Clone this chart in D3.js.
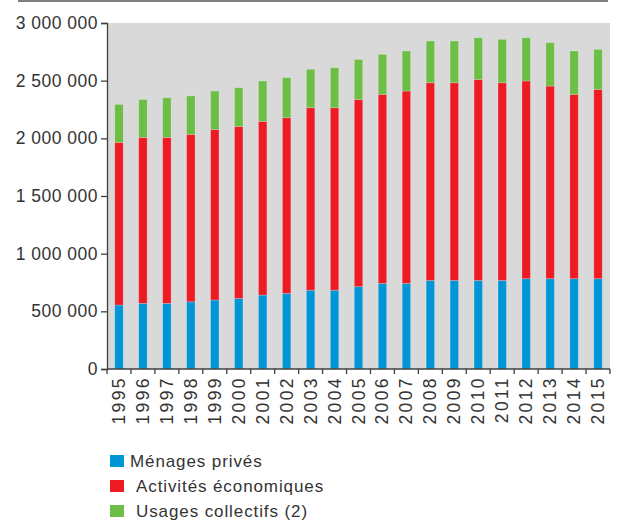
<!DOCTYPE html>
<html>
<head>
<meta charset="utf-8">
<script src="https://cdn.jsdelivr.net/npm/d3@7"></script>
<style>
  body { margin: 0; background: #fff; }
  svg text { font-family: "Liberation Sans", Arial, sans-serif; fill: #333; }
</style>
</head>
<body>
<svg id="chart" width="619" height="523"></svg>
<script>
// data
const years = ["1995","1996","1997","1998","1999","2000","2001","2002","2003","2004","2005",
  "2006","2007","2008","2009","2010","2011","2012","2013","2014","2015"];
const menages = [555000,569000,569000,583000,598000,612000,641000,655000,683000,683000,714000,
  742000,742000,768000,768000,768000,768000,783000,783000,783000,783000];
const activites = [1410000,1439000,1439000,1451000,1479000,1491000,1506000,1524000,1582000,1582000,1623000,
  1639000,1668000,1714000,1714000,1743000,1714000,1714000,1670000,1598000,1641000];
const collectifs = [329000,329000,344000,333000,333000,336000,350000,347000,333000,347000,347000,
  347000,347000,362000,362000,361000,376000,375000,376000,376000,347000];
const seriesNames = ["Ménages privés", "Activités économiques", "Usages collectifs (2)"];
const seriesColors = ["#0096d6", "#ed1c24", "#6dbe45"];
const yTicks = [0, 500000, 1000000, 1500000, 2000000, 2500000, 3000000];

const svg = d3.select("#chart");
const margin = { left: 107, right: 9, top: 23, bottom: 154 };
const width = 619, height = 523;

// top rule
svg.append("line")
  .attr("x1", 18).attr("x2", 608)
  .attr("y1", 1).attr("y2", 1)
  .attr("stroke", "#7f7f7f")
  .attr("stroke-width", 2);

const x = d3.scaleBand()
  .domain(years)
  .range([margin.left, width - margin.right])
  .paddingInner(0.65)
  .paddingOuter(0.325);

const y = d3.scaleLinear()
  .domain([0, 3000000])
  .range([height - margin.bottom, margin.top]);

// plot background
svg.append("rect")
  .attr("x", margin.left)
  .attr("y", y(3000000))
  .attr("width", width - margin.right - margin.left)
  .attr("height", y(0) - y(3000000))
  .attr("fill", "#d9d9d9");

// stack the series
const table = years.map((yr, i) => ({ year: yr, a: menages[i], b: activites[i], c: collectifs[i] }));
const stack = d3.stack().keys(["a", "b", "c"])(table);

svg.append("g")
  .selectAll("g")
  .data(stack)
  .enter()
  .append("g")
  .attr("fill", (d, i) => seriesColors[i])
  .selectAll("rect")
  .data((d) => d)
  .enter()
  .append("rect")
  .attr("x", (d) => x(d.data.year))
  .attr("width", x.bandwidth())
  .attr("y", (d) => y(d[1]))
  .attr("height", (d) => y(d[0]) - y(d[1]))
  .attr("stroke", "rgba(255,255,255,0.25)")
  .attr("stroke-width", 0.8);

// y axis
const fr = d3.formatLocale({ decimal: ",", thousands: " ", grouping: [3], currency: ["", " €"] });
const yAxis = d3.axisLeft(y)
  .tickValues(yTicks)
  .tickFormat(fr.format(",d"))
  .tickSize(6)
  .tickPadding(3);

const yg = svg.append("g")
  .attr("transform", `translate(${margin.left},0)`)
  .call(yAxis);
yg.select(".domain").attr("stroke", "#404040").attr("stroke-width", 1.3);
yg.selectAll(".tick line").attr("stroke", "#404040").attr("stroke-width", 1.3);
yg.selectAll(".tick text")
  .attr("font-size", 17.5)
  .attr("letter-spacing", "0.5px")
  .attr("fill", "#262626");

// x axis: baseline, ticks between bars, rotated labels
const xg = svg.append("g").attr("class", "x-axis");
xg.append("line")
  .attr("x1", margin.left).attr("x2", width - margin.right)
  .attr("y1", y(0)).attr("y2", y(0))
  .attr("stroke", "#404040").attr("stroke-width", 1.3);

const step = x.step();
xg.selectAll(".xtick")
  .data(d3.range(years.length + 1))
  .enter()
  .append("line")
  .attr("class", "xtick")
  .attr("x1", (i) => margin.left + i * step)
  .attr("x2", (i) => margin.left + i * step)
  .attr("y1", y(0))
  .attr("y2", y(0) + 5)
  .attr("stroke", "#404040").attr("stroke-width", 1.3);

xg.selectAll(".xlabel")
  .data(years)
  .enter()
  .append("text")
  .attr("class", "xlabel")
  .attr("transform", (d) => `translate(${x(d) + x.bandwidth() / 2 + 6},${y(0) + 7}) rotate(-90)`)
  .attr("text-anchor", "end")
  .attr("font-size", 17.5)
  .attr("letter-spacing", "2.4px")
  .attr("fill", "#262626")
  .text((d) => d);

// legend
const legend = svg.append("g")
  .selectAll("g")
  .data(seriesNames)
  .enter()
  .append("g")
  .attr("transform", (d, i) => `translate(110,${455 + i * 25})`);

legend.append("rect")
  .attr("width", 14)
  .attr("height", 12)
  .attr("fill", (d, i) => seriesColors[i]);

legend.append("text")
  .attr("x", (d, i) => (i === 0 ? 20 : 26))
  .attr("y", 12)
  .attr("font-size", 17)
  .attr("letter-spacing", "0.9px")
  .attr("fill", "#262626")
  .text((d) => d);
</script>
</body>
</html>
